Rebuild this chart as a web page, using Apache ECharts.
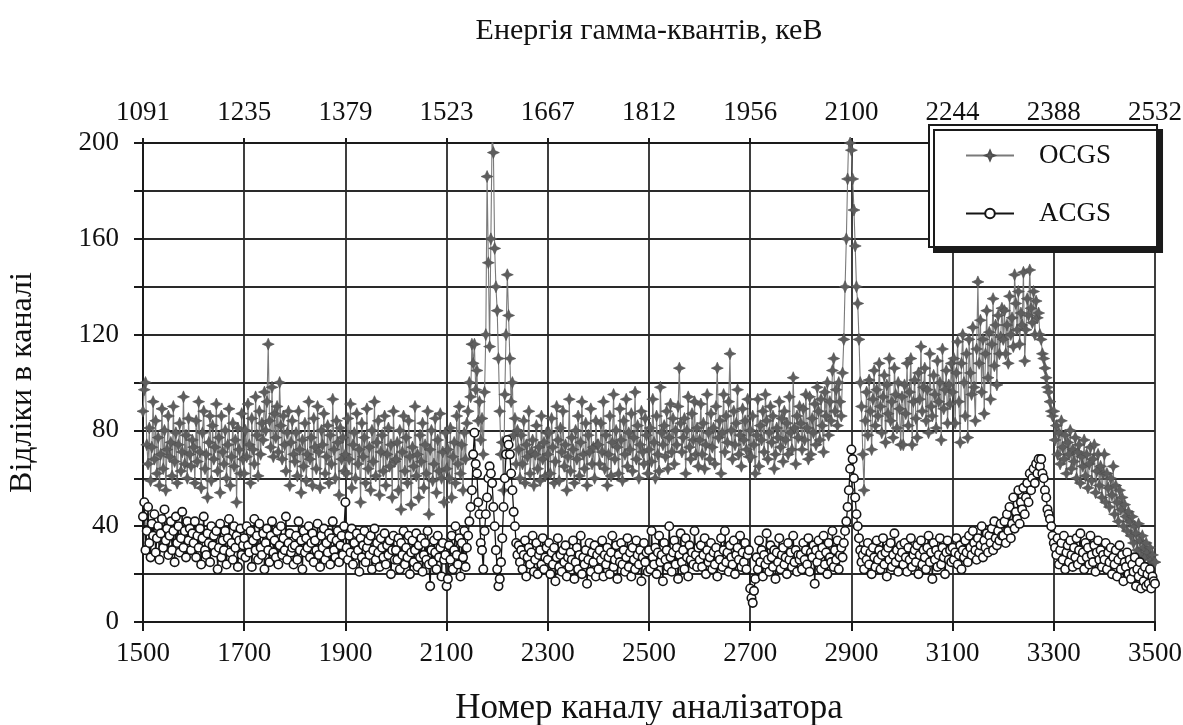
<!DOCTYPE html>
<html>
<head>
<meta charset="utf-8">
<script src="https://cdn.jsdelivr.net/npm/echarts@6/dist/echarts.min.js"></script>
<style>
html,body{margin:0;padding:0;background:#fff;}
#chart{width:1183px;height:725px;}
</style>
</head>
<body>
<div id="chart"></div>
<script>
// Each row holds the samples of one 100-channel block (1500-1600, 1600-1700, ...),
// evenly spaced inside the block; the last row is the single sample at channel 3500.
const blockStart = 1500;
const blockWidth = 100;

// Bottom axis tick labels (channel numbers) and top axis tick labels (energy, keV)
const channelTicks = [1500,1700,1900,2100,2300,2500,2700,2900,3100,3300,3500];
const energyLabels = ["1091","1235","1379","1523","1667","1812","1956","2100","2244","2388","2532"];
const yTickLabels = [0, 40, 80, 120, 160, 200];
const seriesNames = ["OCGS", "ACGS"];

// OCGS counts per channel
const ocgs = [
  [88,97,100,74,66,81,59,73,92,68,84,62,77,57,70,89,64,80,55,72,86,69,75,61,90,67,79,58,74,83,63,71,94,66,78,60,85,70,65,76],
  [73,58,84,67,92,71,56,79,88,64,70,52,75,86,59,82,68,73,91,63,77,54,86,71,66,80,60,74,89,57,69,83,65,76,50,81,72,62,87,68],
  [62,80,69,91,74,58,85,72,66,94,78,61,88,70,83,76,96,80,92,116,84,73,98,69,87,77,90,71,100,82,68,86,74,63,79,88,57,75,84,70],
  [67,79,61,88,72,54,76,65,83,59,70,92,68,77,57,85,73,64,90,71,56,80,74,87,62,69,82,58,78,66,93,72,60,84,75,53,81,68,77,63],
  [70,62,85,68,91,56,74,79,60,87,66,72,50,83,69,77,58,89,64,73,55,80,67,92,61,75,84,53,71,78,63,86,57,70,81,65,74,52,88,67],
  [68,75,55,80,47,71,86,63,77,58,84,69,49,73,65,90,61,70,52,78,67,83,56,74,62,88,45,72,80,59,66,85,54,76,63,87,60,71,50,79],
  [64,72,60,81,52,69,75,58,86,66,90,62,74,55,79,68,83,88,100,94,116,108,116,97,105,84,92,76,85,70,96,120,186,150,115,160,205,196,156,140],
  [130,110,88,70,75,55,95,120,145,128,110,92,100,78,85,66,80,72,60,78,66,84,58,74,69,88,62,71,76,57,70,82,64,73,59,86,68,75,61,79],
  [70,79,62,85,73,58,67,90,76,59,81,71,88,65,74,55,69,93,63,77,72,58,80,68,86,61,75,92,70,64,83,57,78,71,89,66,73,60,84,74],
  [74,66,83,71,92,64,78,57,70,86,61,75,95,68,80,73,62,89,76,59,84,70,93,65,79,72,87,63,77,96,68,82,60,74,88,71,66,85,78,62],
  [72,81,67,93,75,60,86,70,63,98,79,74,82,69,88,64,77,91,71,85,66,80,74,90,106,83,71,77,85,62,80,94,73,68,87,76,92,70,81,65],
  [76,91,70,83,64,74,95,79,68,87,73,81,66,90,106,77,84,62,79,95,71,86,75,92,112,80,68,88,74,83,97,70,78,65,89,76,84,72,93,69],
  [80,69,86,74,62,78,93,65,82,76,88,71,95,84,68,79,90,75,86,64,70,81,77,92,73,85,67,88,76,83,70,94,79,72,102,81,66,86,77,90],
  [83,72,89,76,95,81,68,94,70,85,79,91,74,98,88,76,93,82,71,96,86,100,78,92,84,105,110,88,97,82,100,92,86,104,118,140,160,185,205,200],
  [197,185,172,157,140,133,118,100,90,70,55,84,96,78,101,88,72,93,105,82,97,86,108,90,79,94,103,75,99,87,110,84,92,77,106,95,81,100,89,74],
  [94,74,99,87,108,82,96,110,74,92,101,85,77,104,93,115,88,98,106,84,97,79,112,90,86,103,95,81,109,92,100,76,114,89,97,105,83,99,91,108],
  [96,110,83,104,117,92,75,108,120,100,86,112,77,118,104,95,123,98,84,114,142,108,126,96,118,87,112,130,102,121,93,116,135,107,124,99,128,112,119,131],
  [118,130,112,124,108,136,120,127,115,145,133,122,138,116,129,124,146,109,122,135,128,147,131,125,138,120,134,127,129,120,118,112,110,106,102,98,96,92,88,86],
  [88,76,82,70,79,66,84,73,68,78,62,75,70,80,64,72,67,77,60,71,74,58,69,65,76,61,70,56,66,73,59,68,74,54,63,70,57,65,52,62],
  [70,50,62,56,48,60,53,65,45,57,50,42,55,47,52,40,49,44,38,46,42,36,44,33,40,37,30,41,34,28,36,31,27,33,29,24,31,26,28,25],
  [25]
];

// ACGS counts per channel
const acgs = [
  [44,50,30,38,48,33,27,41,36,45,29,35,40,26,37,43,31,47,34,39,28,36,42,30,38,25,44,33,40,29,35,46,31,38,27,42,34,39,30,37],
  [33,42,27,36,31,39,24,35,44,30,28,37,33,25,40,32,36,29,38,22,31,41,27,34,30,38,24,35,43,29,33,26,40,31,36,23,34,39,28,32],
  [35,27,40,32,29,38,23,34,43,30,36,26,41,31,28,37,22,33,39,30,25,36,42,29,34,27,38,24,32,40,28,35,30,44,26,33,37,29,31,24],
  [32,36,26,42,30,34,22,38,29,35,31,40,27,33,37,25,34,30,41,28,23,36,31,39,26,33,29,37,24,35,42,30,27,34,38,25,32,36,28,40],
  [50,31,26,36,29,39,24,33,28,37,30,21,35,27,32,38,25,31,34,28,36,22,30,39,26,33,29,23,35,31,27,37,24,32,28,34,20,30,36,26],
  [30,26,35,22,33,28,38,24,31,27,36,20,29,34,25,30,37,23,32,27,35,21,28,33,26,38,24,15,30,25,34,29,22,36,27,31,19,33,26,28],
  [15,18,32,26,36,22,30,40,28,24,35,19,33,27,38,23,31,36,42,48,55,70,79,66,62,50,45,33,30,22,38,45,52,60,65,62,58,48,40,30],
  [22,15,18,25,35,48,60,70,76,74,70,62,55,46,40,33,28,32,25,30,22,28,34,19,27,31,24,29,36,21,26,33,20,28,30,24,35,22,27,31],
  [26,33,20,29,24,31,17,27,35,23,28,21,30,25,32,19,27,23,29,26,34,18,25,31,22,28,36,20,27,24,30,16,26,33,21,29,25,32,19,28],
  [22,30,26,34,19,28,24,31,27,20,29,36,23,26,32,18,28,25,33,24,30,21,27,35,23,29,19,31,26,22,34,28,24,30,17,27,33,25,29,21],
  [30,22,38,27,24,31,20,29,36,25,28,17,33,26,30,23,40,27,21,29,34,24,31,18,28,37,25,30,22,35,27,19,32,26,29,24,38,28,23,31],
  [26,32,23,28,35,20,30,25,27,33,22,29,24,31,19,28,26,35,23,30,38,25,29,21,32,27,24,34,20,28,31,26,36,23,29,25,33,22,28,30],
  [14,10,8,13,18,27,22,34,25,30,19,28,24,37,26,21,32,27,23,30,18,29,25,35,22,28,31,24,27,20,33,26,29,23,36,25,30,21,28,26],
  [28,22,33,26,30,24,35,21,29,27,32,16,30,25,34,28,22,31,36,24,29,20,33,27,25,38,23,30,26,34,22,28,31,27,33,38,42,48,55,64],
  [72,68,60,52,45,40,35,30,25,28,22,30,26,33,24,29,20,31,27,23,34,26,30,22,28,35,24,29,19,31,26,33,23,28,37,25,30,21,27,32],
  [29,24,33,27,21,31,26,35,23,28,30,25,32,20,28,34,24,30,27,22,31,36,25,29,18,33,26,30,23,28,35,24,31,27,20,29,34,26,30,25],
  [31,26,29,35,24,28,32,22,30,27,34,29,25,36,31,28,38,33,30,26,35,29,32,40,27,34,31,37,29,36,33,39,30,42,35,32,38,34,41,36],
  [36,42,33,45,38,48,35,41,52,39,46,43,55,41,50,47,56,45,52,58,50,62,55,60,64,58,66,62,68,65,68,62,60,55,52,47,45,43,40,36],
  [33,31,28,35,24,30,33,26,36,22,29,32,25,34,28,23,31,27,35,24,30,37,26,29,22,33,27,31,24,36,28,25,32,21,29,34,26,30,23,28],
  [26,33,22,29,25,31,20,27,24,30,19,26,32,22,28,17,25,23,29,20,26,18,24,21,27,15,22,19,25,14,21,17,23,15,20,16,22,14,19,17],
  [16]
];

const FONT = '"Liberation Serif", "DejaVu Serif", serif';

function toPairs(rows) {
  const out = [];
  rows.forEach((row, r) => {
    const start = blockStart + r * blockWidth;
    row.forEach((v, j) => out.push([start + j * blockWidth / row.length, v]));
  });
  return out;
}

const STAR = 'path://M0,-10 L3,-3 L10,0 L3,3 L0,10 L-3,3 L-10,0 L-3,-3 Z';

const chart = echarts.init(document.getElementById('chart'), null, {renderer: 'canvas'});

const axisLineStyle = {color: '#1a1a1a', width: 2};
const gridLineStyle = {color: '#2a2a2a', width: 1.8};

chart.setOption({
  backgroundColor: '#ffffff',
  animation: false,
  grid: {left: 143, right: 28, top: 143, bottom: 103, containLabel: false, outerBoundsMode: 'none'},
  legend: {
    data: seriesNames,
    left: 929, top: 125,
    orient: 'vertical',
    backgroundColor: '#ffffff',
    borderColor: '#1a1a1a', borderWidth: 2,
    shadowColor: '#1a1a1a', shadowOffsetX: 5, shadowOffsetY: 5, shadowBlur: 0,
    padding: [17, 46, 20, 36],
    itemGap: 31,
    itemWidth: 48, itemHeight: 12,
    textStyle: {fontFamily: FONT, fontSize: 27, color: '#111', padding: [0, 0, 0, 20]}
  },
  xAxis: [
    {
      type: 'value', position: 'bottom',
      min: 1500, max: 3500, interval: 200,
      name: 'Номер каналу аналізатора', nameLocation: 'middle', nameGap: 69,
      nameTextStyle: {fontFamily: FONT, fontSize: 35, color: '#111'},
      axisLine: {show: true, lineStyle: axisLineStyle},
      axisTick: {show: true, length: 9, inside: false, lineStyle: axisLineStyle},
      axisLabel: {fontFamily: FONT, fontSize: 27, color: '#111', margin: 18,
        formatter: v => channelTicks.includes(v) ? String(v) : ''},
      splitLine: {show: true, lineStyle: gridLineStyle}
    },
    {
      type: 'value', position: 'top',
      min: 1500, max: 3500, interval: 200,
      name: 'Енергія гамма-квантів, кеВ', nameLocation: 'middle', nameGap: 97,
      nameTextStyle: {fontFamily: FONT, fontSize: 30, color: '#111'},
      axisLine: {show: true, lineStyle: axisLineStyle},
      axisTick: {show: true, length: 5, inside: false, lineStyle: axisLineStyle},
      axisLabel: {fontFamily: FONT, fontSize: 27, color: '#111', margin: 17,
        formatter: v => energyLabels[Math.round((v - 1500) / 200)]},
      splitLine: {show: false}
    }
  ],
  yAxis: {
    type: 'value', min: 0, max: 200, interval: 20,
    name: 'Відліки в каналі', nameLocation: 'middle', nameGap: 104,
    nameTextStyle: {fontFamily: FONT, fontSize: 32, color: '#111'},
    axisLine: {show: true, lineStyle: axisLineStyle},
    axisTick: {show: true, length: 9, lineStyle: axisLineStyle},
    axisLabel: {fontFamily: FONT, fontSize: 27, color: '#111', margin: 24,
      formatter: v => yTickLabels.includes(v) ? String(v) : ''},
    splitLine: {show: true, lineStyle: gridLineStyle}
  },
  series: [
    {
      name: seriesNames[0], type: 'line', xAxisIndex: 0,
      data: toPairs(ocgs),
      symbol: STAR, symbolSize: 12, showAllSymbol: true,
      itemStyle: {color: '#5e5e5e', borderColor: '#4e4e4e', borderWidth: 0.6},
      lineStyle: {color: '#7a7a7a', width: 1.1},
      z: 2, clip: true
    },
    {
      name: seriesNames[1], type: 'line', xAxisIndex: 0,
      data: toPairs(acgs),
      symbol: 'circle', symbolSize: 8.5, showAllSymbol: true,
      itemStyle: {color: '#ffffff', borderColor: '#151515', borderWidth: 1.6},
      lineStyle: {color: '#151515', width: 1.3},
      z: 3, clip: true
    }
  ]
});
</script>
</body>
</html>
